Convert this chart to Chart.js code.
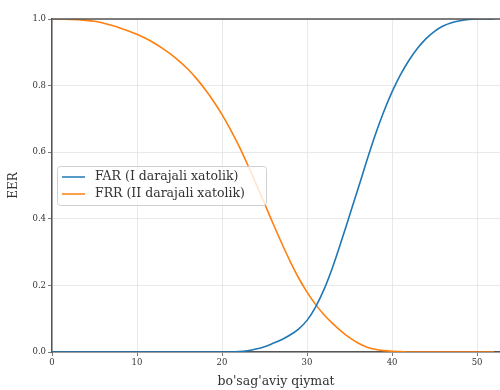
<!DOCTYPE html>
<html>
<head>
<meta charset="utf-8">
<script src="https://cdn.jsdelivr.net/npm/chart.js@4.4.1/dist/chart.umd.min.js"></script>
<style>
  html, body { margin: 0; padding: 0; background: #fff; }
  #wrap { width: 500px; height: 390px; position: relative; }
</style>
</head>
<body>
<div id="wrap"><canvas id="eerChart"></canvas></div>
<script>
// chegara qiymatlari (x o'qi)
const thresholds = [0, 1, 2, 3, 4, 5, 6, 7, 8, 9, 10, 11, 12, 13, 14, 15, 16, 17, 18, 19, 20,
  21, 22, 23, 24, 25, 26, 27, 28, 29, 30, 31, 32, 33, 34, 35, 36, 37, 38, 39, 40,
  41, 42, 43, 44, 45, 46, 47, 48, 49, 50, 51, 52];

// FAR - I darajali xatolik
const farValues = [0, 0, 0, 0, 0, 0, 0, 0, 0, 0, 0, 0, 0, 0, 0, 0, 0, 0, 0, 0, 0,
  0, 0.001, 0.004, 0.009, 0.016, 0.026, 0.037, 0.051, 0.069, 0.095,
  0.135, 0.188, 0.254, 0.330, 0.410, 0.490, 0.572, 0.650, 0.720, 0.781,
  0.833, 0.876, 0.912, 0.941, 0.963, 0.979, 0.989, 0.995, 0.999, 1.0, 1.0, 1.0];

// FRR - II darajali xatolik
const frrValues = [1.0, 1.0, 0.999, 0.998, 0.996, 0.993, 0.988, 0.981, 0.973, 0.964, 0.954,
  0.942, 0.928, 0.912, 0.894, 0.873, 0.849, 0.821, 0.789, 0.753, 0.713,
  0.668, 0.618, 0.563, 0.505, 0.446, 0.386, 0.328, 0.273, 0.223, 0.180,
  0.143, 0.112, 0.086, 0.063, 0.043, 0.027, 0.015, 0.008, 0.004, 0.002,
  0.001, 0, 0, 0, 0, 0, 0, 0, 0, 0, 0, 0];

const xTickValues = [0, 10, 20, 30, 40, 50];
const yTickValues = [0, 0.2, 0.4, 0.6, 0.8, 1.0];

const serif = "'DejaVu Serif', 'Liberation Serif', serif";

// yuqori ramka chizig'i (o'ng tomoni rasmdan tashqarida)
const framePlugin = {
  id: 'frame',
  afterDatasetsDraw(chart) {
    const { ctx, chartArea: a } = chart;
    ctx.save();
    ctx.strokeStyle = '#555';
    ctx.lineWidth = 1.5;
    ctx.beginPath();
    ctx.moveTo(a.left, a.top);
    ctx.lineTo(chart.width, a.top);
    ctx.stroke();
    ctx.restore();
  }
};

// grafik ichidagi legend
const innerLegend = {
  id: 'innerLegend',
  afterDraw(chart) {
    const ctx = chart.ctx;
    const bx = 57, by = 166, bw = 209, bh = 39, r = 3;
    ctx.save();
    ctx.beginPath();
    ctx.roundRect(bx + 0.5, by + 0.5, bw, bh, r);
    ctx.fillStyle = 'rgba(255,255,255,0.8)';
    ctx.fill();
    ctx.strokeStyle = '#d0d0d0';
    ctx.lineWidth = 1;
    ctx.stroke();
    ctx.font = '12.5px ' + serif;
    ctx.textBaseline = 'middle';
    chart.data.datasets.forEach((ds, i) => {
      const y = by + 11 + i * 17;
      ctx.strokeStyle = ds.borderColor;
      ctx.lineWidth = 1.5;
      ctx.beginPath();
      ctx.moveTo(bx + 5, y);
      ctx.lineTo(bx + 28, y);
      ctx.stroke();
      ctx.fillStyle = '#333';
      ctx.fillText(ds.label, bx + 38, y);
    });
    ctx.restore();
  }
};

const ctx = document.getElementById('eerChart').getContext('2d');
new Chart(ctx, {
  type: 'line',
  data: {
    datasets: [
      {
        label: 'FAR (I darajali xatolik)',
        data: thresholds.map((t, i) => ({ x: t, y: farValues[i] })),
        borderColor: '#1f77b4', borderWidth: 1.6, pointRadius: 0,
        cubicInterpolationMode: 'monotone', fill: false
      },
      {
        label: 'FRR (II darajali xatolik)',
        data: thresholds.map((t, i) => ({ x: t, y: frrValues[i] })),
        borderColor: '#ff7f0e', borderWidth: 1.6, pointRadius: 0,
        cubicInterpolationMode: 'monotone', fill: false
      }
    ]
  },
  options: {
    responsive: true, maintainAspectRatio: false, animation: false,
    layout: { padding: { top: 19, right: 0, left: 0, bottom: 0 } },
    plugins: { legend: { display: false }, tooltip: { enabled: false } },
    scales: {
      x: {
        type: 'linear', min: 0, max: 52.7,
        afterBuildTicks: (s) => { s.ticks = xTickValues.map(v => ({ value: v })); },
        afterFit: (s) => { s.height = 38; },
        grid: { color: '#e3e3e3', lineWidth: 0.8, tickLength: 4, tickColor: '#555' },
        border: { color: '#555', width: 1.5 },
        ticks: { color: '#333', font: { family: serif, size: 8.5 }, padding: 2, maxRotation: 0 },
        title: { display: true, text: "bo'sag'aviy qiymat", color: '#333',
          font: { family: serif, size: 12.5 }, padding: { top: 0, bottom: 1 } }
      },
      y: {
        min: 0, max: 1,
        afterBuildTicks: (s) => { s.ticks = yTickValues.map(v => ({ value: v })); },
        afterFit: (s) => { s.width = 52; },
        grid: { color: '#e3e3e3', lineWidth: 0.8, tickLength: 4, tickColor: '#555' },
        border: { color: '#555', width: 1.5 },
        ticks: { color: '#333', font: { family: serif, size: 8.5 }, padding: 2,
          callback: (v) => v.toFixed(1) },
        title: { display: true, text: 'EER', color: '#333',
          font: { family: serif, size: 12 }, padding: { top: 7, bottom: 0 } }
      }
    }
  },
  plugins: [framePlugin, innerLegend]
});
</script>
</body>
</html>
